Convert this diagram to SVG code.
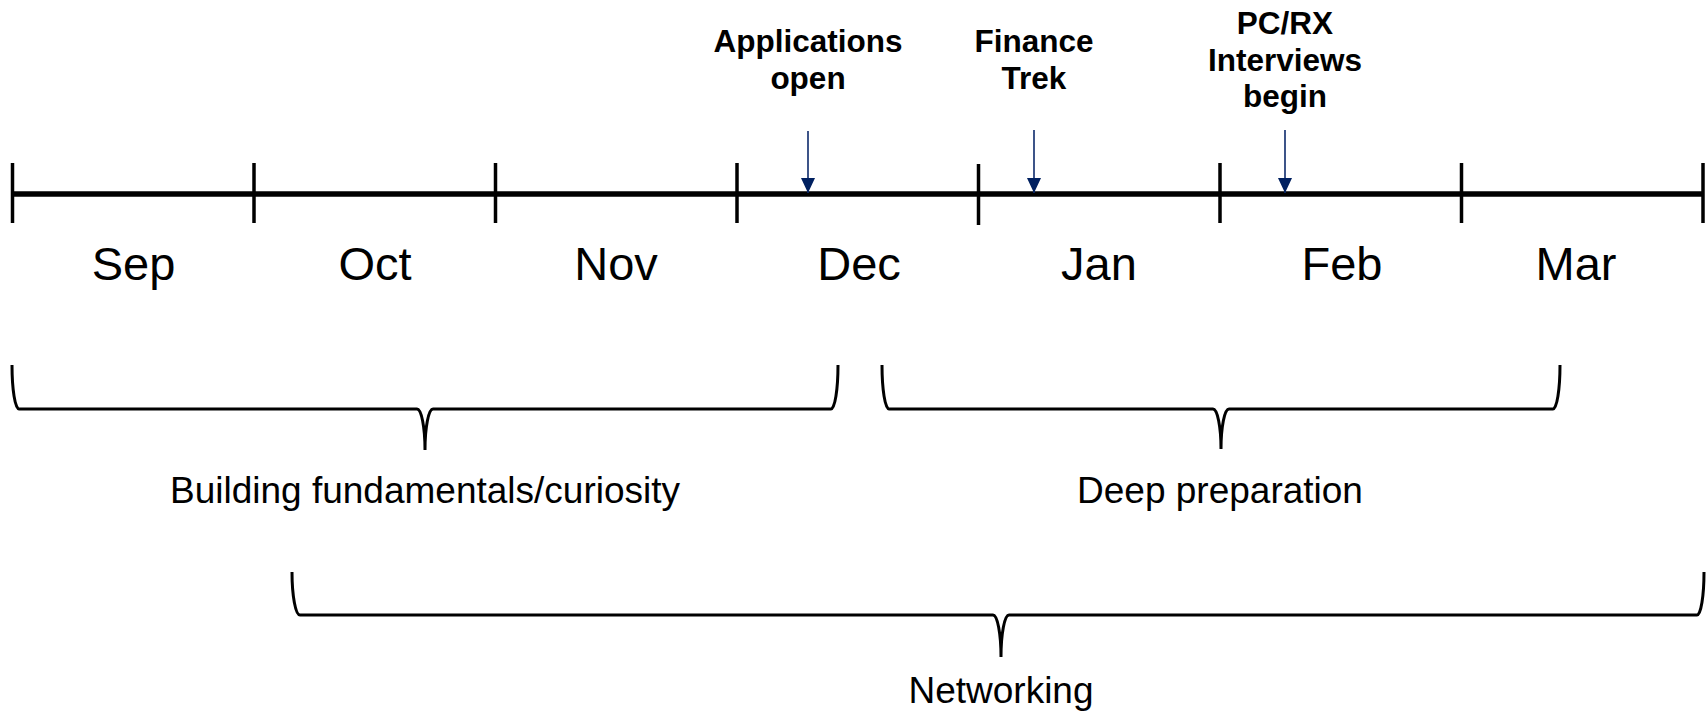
<svg xmlns="http://www.w3.org/2000/svg" width="1707" height="713" viewBox="0 0 1707 713">
<defs>
<style>
.month{font-family:"Liberation Sans",Arial,sans-serif;font-size:47px;fill:#000;text-anchor:middle}
.ev{font-family:"Liberation Sans",Arial,sans-serif;font-size:31.5px;font-weight:bold;fill:#000;text-anchor:middle}
.lbl{font-family:"Liberation Sans",Arial,sans-serif;font-size:37px;fill:#000;text-anchor:middle}
.axis{stroke:#000;stroke-width:5.5;fill:none}
.tick{stroke:#000;stroke-width:3.5;fill:none}
.brace{stroke:#000;stroke-width:3;fill:none}
.arrow{stroke:#0d2a6b;stroke-width:1.6;fill:none;marker-end:url(#ah)}
</style>
<marker id="ah" viewBox="0 0 15 14" refX="15" refY="7" markerWidth="15" markerHeight="14" markerUnits="userSpaceOnUse" orient="auto">
<path d="M0,0 L15,7 L0,14 Z" fill="#002060"/>
</marker>
</defs>
<rect width="1707" height="713" fill="#fff"/>

<g id="timeline">
<line class="axis" x1="12.5" y1="194" x2="1703" y2="194"/>
<line class="tick" x1="12.5" y1="163" x2="12.5" y2="223"/>
<line class="tick" x1="254" y1="163" x2="254" y2="223"/>
<line class="tick" x1="495.5" y1="163" x2="495.5" y2="223"/>
<line class="tick" x1="737" y1="163" x2="737" y2="223"/>
<line class="tick" x1="978.5" y1="164" x2="978.5" y2="225"/>
<line class="tick" x1="1220" y1="163" x2="1220" y2="223"/>
<line class="tick" x1="1461.5" y1="163" x2="1461.5" y2="223"/>
<line class="tick" x1="1703" y1="163" x2="1703" y2="223"/>
</g>

<g id="months">
<text class="month" x="133.5" y="280">Sep</text>
<text class="month" x="375" y="280">Oct</text>
<text class="month" x="616" y="280">Nov</text>
<text class="month" x="859" y="280">Dec</text>
<text class="month" x="1099" y="280">Jan</text>
<text class="month" x="1342" y="280">Feb</text>
<text class="month" x="1576" y="280">Mar</text>
</g>

<g id="event-applications">
<text class="ev" x="808" y="52">Applications</text>
<text class="ev" x="808" y="89">open</text>
</g>
<g id="event-finance-trek">
<text class="ev" x="1034" y="52">Finance</text>
<text class="ev" x="1034" y="89">Trek</text>
</g>
<g id="event-pcrx">
<text class="ev" x="1285" y="34">PC/RX</text>
<text class="ev" x="1285" y="71">Interviews</text>
<text class="ev" x="1285" y="107">begin</text>
</g>

<g id="connectors">
<line class="arrow" x1="808" y1="131" x2="808" y2="193"/>
<line class="arrow" x1="1034" y1="130" x2="1034" y2="193"/>
<line class="arrow" x1="1285" y1="130" x2="1285" y2="193"/>
</g>

<g id="brace-fundamentals">
<path class="brace" d="M12,365 A7,44 0 0 0 19,409 L417,409 A8,41 0 0 1 425,450 A8,41 0 0 1 433,409 L831,409 A7,44 0 0 0 838,365"/>
<text class="lbl" x="425" y="503">Building fundamentals/curiosity</text>
</g>
<g id="brace-deep-preparation">
<path class="brace" d="M882,365 A7,44 0 0 0 889,409 L1213,409 A8,40 0 0 1 1221,449 A8,40 0 0 1 1229,409 L1553,409 A7,44 0 0 0 1560,365"/>
<text class="lbl" x="1220" y="503">Deep preparation</text>
</g>
<g id="brace-networking">
<path class="brace" d="M292,572 A8,43 0 0 0 300,615 L993,615 A8,42 0 0 1 1001,657 A8,42 0 0 1 1009,615 L1697,615 A7,43 0 0 0 1704,572"/>
<text class="lbl" x="1001" y="703">Networking</text>
</g>
</svg>
